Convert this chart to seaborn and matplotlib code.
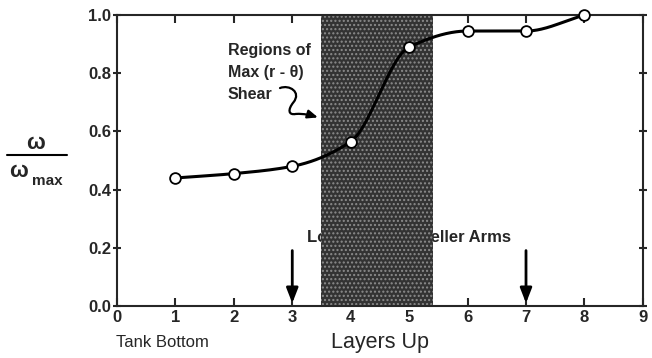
import numpy as np
import pandas as pd
import seaborn as sns
import matplotlib.pyplot as plt
from matplotlib.path import Path
from matplotlib.patches import FancyArrowPatch
from matplotlib.lines import Line2D

# === Data ===
layers = [1, 2, 3, 4, 5, 6, 7, 8]
omega_ratio = [0.44, 0.455, 0.48, 0.565, 0.89, 0.945, 0.945, 1.0]
shear_zone = (3.5, 5.4)       # shaded band, layers
impeller_layers = [3, 7]      # arrow positions
x_ticks = list(range(0, 10))
y_ticks = [0.0, 0.2, 0.4, 0.6, 0.8, 1.0]


def pchip(x, y, xs):
    # monotone cubic through the measured points, used only to draw the smooth line
    x = np.asarray(x, float)
    y = np.asarray(y, float)
    h = np.diff(x)
    d = np.diff(y) / h
    m = np.zeros_like(y)
    for k in range(1, len(x) - 1):
        if d[k - 1] * d[k] > 0:
            w1 = 2 * h[k] + h[k - 1]
            w2 = h[k] + 2 * h[k - 1]
            m[k] = (w1 + w2) / (w1 / d[k - 1] + w2 / d[k])
    m[0] = d[0]
    m[-1] = d[-1]
    idx = np.clip(np.searchsorted(x, xs) - 1, 0, len(x) - 2)
    t = (xs - x[idx]) / h[idx]
    h00 = 2 * t**3 - 3 * t**2 + 1
    h10 = t**3 - 2 * t**2 + t
    h01 = -2 * t**3 + 3 * t**2
    h11 = t**3 - t**2
    return h00 * y[idx] + h10 * h[idx] * m[idx] + h01 * y[idx + 1] + h11 * h[idx] * m[idx + 1]


points = pd.DataFrame({"layer": layers, "omega": omega_ratio})
xs = np.linspace(layers[0], layers[-1], 400)
curve = pd.DataFrame({"layer": xs, "omega": pchip(layers, omega_ratio, xs)})

sns.set_style("ticks")
plt.rcParams["font.family"] = ["Liberation Sans", "DejaVu Sans"]
plt.rcParams["hatch.linewidth"] = 1.0

fig = plt.figure(figsize=(6.52, 3.58), dpi=100)
ax = fig.add_axes([0.1794, 0.1453, 0.8066, 0.8127])

# text sits under the band, as in the reference
ax.text(5.0, 0.237, "Location of Impeller Arms", ha="center", va="center",
        fontsize=12, fontweight="bold", zorder=1)
ax.axvspan(*shear_zone, facecolor="#333333", edgecolor="#8c8c8c", hatch="....",
           lw=0, zorder=2)

sns.lineplot(data=curve, x="layer", y="omega", color="black", lw=2.2, ax=ax, zorder=3)
sns.scatterplot(data=points, x="layer", y="omega", s=60, color="white",
                edgecolor="black", linewidth=1.3, ax=ax, zorder=4, clip_on=False)

for xl in impeller_layers:
    ax.annotate("", xy=(xl, 0.0), xytext=(xl, 0.2),
                arrowprops=dict(arrowstyle="-|>,head_length=0.9,head_width=0.35",
                                color="black", lw=2), zorder=5)

ax.text(1.9, 0.905, "Regions of\nMax (r - \u03b8)\nShear", ha="left", va="top",
        fontsize=11.5, fontweight="bold", linespacing=1.6)

squiggle = Path([(2.79, 0.749),
                 (2.95, 0.762), (3.16, 0.735), (3.02, 0.70),
                 (2.92, 0.675), (2.93, 0.655), (3.06, 0.66),
                 (3.2, 0.662), (3.33, 0.655), (3.44, 0.648)],
                [Path.MOVETO, Path.CURVE4, Path.CURVE4, Path.CURVE4,
                 Path.CURVE4, Path.CURVE4, Path.CURVE4,
                 Path.CURVE4, Path.CURVE4, Path.CURVE4])
ax.add_patch(FancyArrowPatch(path=squiggle, arrowstyle="-|>,head_length=6,head_width=2.5",
                             color="black", lw=1.6, zorder=5))

ax.set_xlim(0, 9)
ax.set_ylim(0, 1.0)
ax.set_xticks(x_ticks)
ax.set_yticks(y_ticks)
ax.set_yticklabels([f"{v:.1f}" for v in y_ticks])
ax.set_xlabel("")
ax.set_ylabel("")
for s in ax.spines.values():
    s.set_visible(True)
    s.set_linewidth(1.5)
ax.tick_params(axis="both", direction="in", length=6, width=1.5,
               top=True, right=True, labelsize=12, pad=3)
ax.tick_params(axis="y", which="both", direction="inout", length=6, pad=1)
for lbl in ax.get_xticklabels() + ax.get_yticklabels():
    lbl.set_fontweight("bold")

# fraction-style y label
fig.text(0.055, 0.598, "\u03c9", ha="center", va="center", fontsize=16, fontweight="bold")
fig.add_artist(Line2D([0.011, 0.103], [0.567, 0.567], color="black", lw=1.5,
                      transform=fig.transFigure))
fig.text(0.029, 0.520, "\u03c9", ha="center", va="center", fontsize=16, fontweight="bold")
fig.text(0.049, 0.494, "max", ha="left", va="center", fontsize=11, fontweight="bold")

fig.text(0.249, 0.042, "Tank Bottom", ha="center", va="center", fontsize=12)
fig.text(0.583, 0.042, "Layers Up", ha="center", va="center", fontsize=15.5)

fig.savefig("out.png", dpi=100)
